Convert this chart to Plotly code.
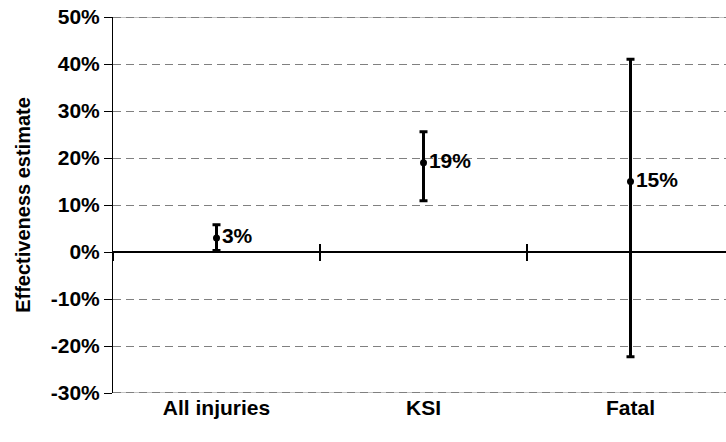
import plotly.graph_objects as go

categories = ["All injuries", "KSI", "Fatal"]
estimates = [3, 19, 15]
upper = [5.8, 25.6, 41.0]
lower = [0.3, 10.9, -22.3]
point_labels = ["3%", "19%", "15%"]
y_ticks = [-30, -20, -10, 0, 10, 20, 30, 40, 50]
y_tick_text = [f"{v}%" for v in y_ticks]

FONT = "Liberation Sans, Arial, sans-serif"
FS = 21
xs = list(range(len(categories)))

W, H = 726, 442
ML, MT, MB = 113, 17, 49
CAT_PX = 207  # pixel width of one category slot; plot runs past the right edge
xr = [-0.5, -0.5 + (W - ML) / CAT_PX]

fig = go.Figure()
fig.add_trace(go.Scatter(
    x=xs, y=estimates, mode="markers+text",
    marker=dict(color="black", size=7),
    text=point_labels, textposition="middle right",
    textfont=dict(family=FONT, size=FS, color="black", weight="bold"),
    error_y=dict(type="data", symmetric=False,
                 array=[u - e for u, e in zip(upper, estimates)],
                 arrayminus=[e - l for e, l in zip(estimates, lower)],
                 color="black", thickness=3, width=4),
    showlegend=False, cliponaxis=False,
))

fig.add_trace(go.Scatter(x=[-0.5], y=[None], xaxis="x2", showlegend=False, hoverinfo="skip"))
fig.add_trace(go.Scatter(x=[-0.5], y=[None], xaxis="x3", showlegend=False, hoverinfo="skip"))

zero_pos = (0 - y_ticks[0]) / (y_ticks[-1] - y_ticks[0])
bounds = [i - 0.5 for i in range(len(categories) + 1)]

for yv in (y_ticks[0], y_ticks[-1]):
    fig.add_shape(type="line", xref="paper", yref="y", x0=0, x1=1, y0=yv, y1=yv,
                  line=dict(color="#c4c4c4", width=2), layer="above")
    fig.add_shape(type="line", xref="paper", yref="y", x0=0, x1=1, y0=yv, y1=yv,
                  line=dict(color="#808080", width=2, dash="8px,5px"), layer="above")

fig.update_layout(
    width=W, height=H,
    margin=dict(l=ML, r=0, t=MT, b=MB, autoexpand=False),
    paper_bgcolor="white", plot_bgcolor="white",
    font=dict(family=FONT, size=FS, color="black"),
    xaxis=dict(range=xr, tickmode="array", tickvals=xs, ticktext=categories,
               showgrid=False, zeroline=False, showline=False,
               ticks="", automargin=False, ticklabeloverflow="allow",
               tickfont=dict(family=FONT, size=FS, color="black", weight="bold")),
    xaxis2=dict(range=xr, overlaying="x", anchor="free", position=zero_pos, side="bottom",
                tickmode="array", tickvals=bounds, showticklabels=False,
                ticks="outside", ticklen=8, tickwidth=2, tickcolor="black",
                showgrid=False, zeroline=False, showline=False),
    xaxis3=dict(range=xr, overlaying="x", anchor="free", position=zero_pos, side="bottom",
                tickmode="array", tickvals=bounds, showticklabels=False,
                ticks="inside", ticklen=8, tickwidth=2, tickcolor="black",
                showgrid=False, zeroline=False, showline=False),
    yaxis=dict(range=[y_ticks[0], y_ticks[-1]], tickmode="array", tickvals=y_ticks,
               ticktext=y_tick_text, ticks="outside", ticklen=8, tickcolor="black",
               tickwidth=1, automargin=False, ticklabeloverflow="allow",
               showline=True, linecolor="black", linewidth=1,
               showgrid=True, gridcolor="#808080", griddash="8px,5px", gridwidth=1,
               zeroline=True, zerolinecolor="black", zerolinewidth=2,
               tickfont=dict(family=FONT, size=FS, color="black", weight="bold"),
               title=dict(text="Effectiveness estimate", standoff=14,
                          font=dict(family=FONT, size=20, color="black", weight="bold"))),
)

fig.write_html("out.html", config={"displayModeBar": False},
               post_script="document.body.style.margin='0';document.body.style.overflow='hidden';")
